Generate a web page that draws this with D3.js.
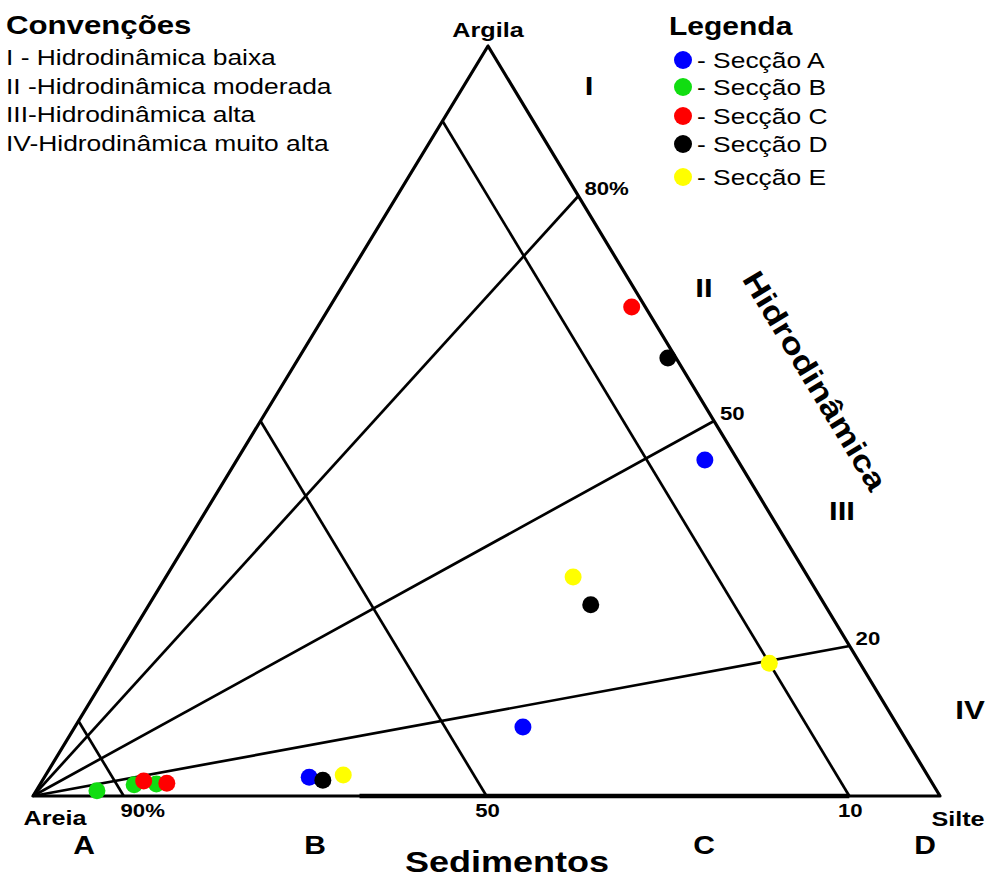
<!DOCTYPE html>
<html>
<head>
<meta charset="utf-8">
<script src="https://cdn.jsdelivr.net/npm/d3@7"></script>
<style>
  html, body { margin: 0; padding: 0; background: #fff; }
  svg { display: block; }
  text { font-family: "Liberation Sans", Arial, sans-serif; fill: #000; }
</style>
</head>
<body>
<svg id="chart" width="989" height="879"></svg>
<script>
// Samples per section: [areia %, silte %, argila %]
const secaoA = [[3.6, 51.6, 44.8], [41.4, 49.4, 9.2], [68.3, 29.2, 2.5]];
const secaoB = [[92.6, 6.7, 0.7], [88.1, 10.4, 1.5], [85.6, 12.8, 1.6]];
const secaoC = [[1.5, 33.3, 65.2], [86.8, 11.2, 2.0], [84.4, 13.9, 1.7]];
const secaoD = [[0.9, 40.7, 58.4], [25.8, 48.7, 25.5], [67.0, 30.9, 2.1]];
const secaoE = [[25.9, 44.9, 29.2], [10.0, 72.3, 17.7], [64.4, 32.8, 2.8]];

const seriesNames = ["Secção A", "Secção B", "Secção C", "Secção D", "Secção E"];
const seriesColors = ["#0000ff", "#11dd11", "#ff0000", "#000000", "#ffff00"];
const seriesData = [secaoA, secaoB, secaoC, secaoD, secaoE];

// Clay share of the mud fraction (rays from the Areia corner)
const clayRatioLines = [80, 50, 20];
const clayRatioLabels = ["80%", "50", "20"];
// Sand content (lines parallel to the Argila–Silte side)
const sandLines = [90, 50, 10];
const sandLabels = ["90%", "50", "10"];

const zoneLabels = ["I", "II", "III", "IV"];
const classLabels = ["A", "B", "C", "D"];
const conventions = [
  "I - Hidrodinâmica baixa",
  "II -Hidrodinâmica moderada",
  "III-Hidrodinâmica alta",
  "IV-Hidrodinâmica muito alta"
];

const svg = d3.select("#chart");
const SX = 1.2; // horizontal stretch applied to lettering

// Triangle corners
const areia = [33, 796], silte = [940, 796], argila = [488, 46];

// Ternary projection built from linear scales on silt and clay
const siltX = d3.scaleLinear().domain([0, 100]).range([0, silte[0] - areia[0]]);
const clayX = d3.scaleLinear().domain([0, 100]).range([0, argila[0] - areia[0]]);
const clayY = d3.scaleLinear().domain([0, 100]).range([areia[1], argila[1]]);
function proj(sand, silt, clay) {
  return [areia[0] + siltX(silt) + clayX(clay), clayY(clay)];
}

function label(x, y, str, size, weight, anchor, rot) {
  return svg.append("text")
    .attr("transform", `translate(${x},${y}) rotate(${rot || 0}) scale(${SX},1)`)
    .attr("font-size", size)
    .attr("font-weight", weight || "normal")
    .attr("text-anchor", anchor || "start")
    .text(str);
}

const line = d3.line();
const g = svg.append("g").attr("fill", "none").attr("stroke", "#000").attr("stroke-linejoin", "round");

// Outline
g.append("path")
  .attr("d", line([proj(100, 0, 0), proj(0, 100, 0), proj(0, 0, 100)]) + "Z")
  .attr("stroke-width", 3.2);
// Heavier base segment
g.append("path")
  .attr("d", line([proj(64, 36, 0), proj(10, 90, 0)]))
  .attr("stroke-width", 4.4);

// Rays of constant clay/mud ratio
clayRatioLines.forEach(r => {
  g.append("path").attr("d", line([proj(100, 0, 0), proj(0, 100 - r, r)])).attr("stroke-width", 2.7);
});
// Lines of constant sand content
sandLines.forEach(s => {
  g.append("path").attr("d", line([proj(s, 100 - s, 0), proj(s, 0, 100 - s)])).attr("stroke-width", 2.7);
});

// Grid labels
clayRatioLines.forEach((r, i) => {
  const p = proj(0, 100 - r, r);
  label(p[0] + 6, p[1] - 1, clayRatioLabels[i], 18.5, "bold", "start");
});
sandLines.forEach((s, i) => {
  const p = proj(s, 100 - s, 0);
  const dx = i === 0 ? 19 : 1;
  label(p[0] + dx, p[1] + 21, sandLabels[i], 18.5, "bold", "middle");
});

// Corner names
label(argila[0], 37, "Argila", 21, "bold", "middle");
label(55, 825, "Areia", 21, "bold", "middle");
label(958, 826, "Silte", 21, "bold", "middle");

// Axis titles
label(507, 872, "Sedimentos", 30, "bold", "middle");
const edgeAngle = Math.atan2(areia[1] - argila[1], silte[0] - argila[0]) * 180 / Math.PI;
label(806, 386, "Hidrodinâmica", 30, "bold", "middle", edgeAngle);

// Hydrodynamic zones
const zonePos = [[589, 95], [704, 297], [842, 520], [970, 719]];
zoneLabels.forEach((z, i) => label(zonePos[i][0], zonePos[i][1], z, 26, "bold", "middle"));

// Sediment classes
const classX = [84, 315, 704, 925];
classLabels.forEach((c, i) => label(classX[i], 854, c, 25, "bold", "middle"));

// Samples
seriesData.forEach((pts, si) => {
  svg.append("g").selectAll("circle").data(pts).join("circle")
    .attr("cx", d => proj(d[0], d[1], d[2])[0])
    .attr("cy", d => proj(d[0], d[1], d[2])[1])
    .attr("r", 8.5)
    .attr("fill", seriesColors[si]);
});

// Conventions block
label(6, 34, "Convenções", 26, "bold", "start");
conventions.forEach((t, i) => label(6, 65 + i * 28.5, t, 22, "normal", "start"));

// Legend
label(669, 35, "Legenda", 25, "bold", "start");
const legY = [60, 87, 116, 144, 177];
seriesNames.forEach((n, i) => {
  svg.append("circle").attr("cx", 683).attr("cy", legY[i]).attr("r", 9).attr("fill", seriesColors[i]);
  label(697, legY[i] + 8, "- " + n, 22, "normal", "start");
});
</script>
</body>
</html>
